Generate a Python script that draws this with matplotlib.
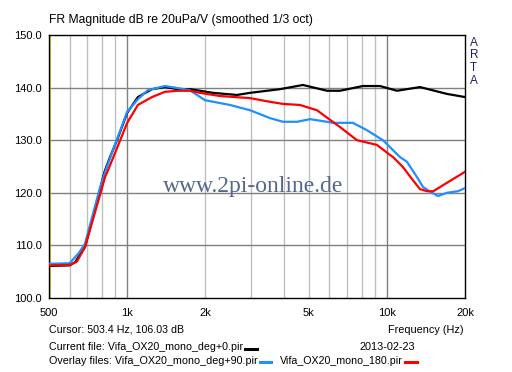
import matplotlib
matplotlib.use('Agg')
import matplotlib.pyplot as plt
from matplotlib.ticker import FixedLocator, NullFormatter

# curves (Hz, dB)
freq_0 = [500, 600, 630, 688, 786, 807, 822, 859, 914, 1000, 1100, 1246, 1398, 1570,
          1750, 2140, 2648, 2971, 3876, 4753, 5882, 6600, 8090, 9410, 10940, 13420, 17040, 20000]
db_0 = [106.1, 106.2, 106.8, 109.7, 120.5, 123.0, 124.3, 126.8, 130.0, 135.2, 138.2, 139.7, 140.1, 139.7,
        139.7, 139.0, 138.6, 139.0, 139.7, 140.5, 139.4, 139.4, 140.3, 140.3, 139.4, 140.1, 138.8, 138.2]

freq_90 = [500, 600, 650, 688, 786, 836, 880, 1000, 1100, 1200, 1398, 1570, 1745, 1994, 2488,
           2971, 3548, 3980, 4508, 5060, 5882, 6205, 7400, 8383, 9660, 11230, 11950, 13060,
           13780, 14920, 15740, 17040, 18790, 20000]
db_90 = [106.5, 106.6, 108.5, 110.3, 121.0, 125.0, 128.0, 135.4, 137.8, 139.5, 140.3, 139.9, 139.5, 137.6, 136.7,
         135.7, 134.2, 133.5, 133.5, 134.0, 133.5, 133.3, 133.3, 131.9, 130.0, 126.8, 125.9, 123.0,
         121.1, 120.0, 119.4, 120.0, 120.3, 120.9]

freq_180 = [500, 600, 640, 688, 786, 822, 836, 914, 1000, 1100, 1246, 1398, 1570, 1750, 1907,
            2276, 2971, 3548, 3980, 4628, 5380, 5882, 6600, 7673, 9162, 10280, 10560, 11530,
            12600, 13420, 14280, 15100, 17040, 19120, 20000]
db_180 = [106.2, 106.3, 106.9, 109.7, 119.6, 123.0, 123.8, 128.5, 133.3, 136.7, 138.2, 139.2, 139.4, 139.4, 139.0,
          138.4, 138.0, 137.3, 136.9, 136.7, 135.7, 134.3, 132.5, 130.0, 129.1, 127.2, 126.8, 124.9,
          122.4, 120.7, 120.3, 120.3, 121.9, 123.4, 124.0]

major_x = [1000, 10000]
minor_x = [600, 700, 800, 900, 2000, 3000, 4000, 5000, 6000, 7000, 8000, 9000]
x_ticks = [500, 1000, 2000, 5000, 10000, 20000]
x_labels = ['500', '1k', '2k', '5k', '10k', '20k']
y_ticks = [100, 110, 120, 130, 140, 150]

plt.rcParams['font.family'] = ['Liberation Sans', 'DejaVu Sans']

W, H = 512, 372
fig = plt.figure(figsize=(W / 100, H / 100), dpi=100)
ax = fig.add_axes([49 / W, 1 - 298 / H, 416 / W, 263 / H])
ax.set_xscale('log')
ax.set_xlim(500, 20000)
ax.set_ylim(100, 150)

for f in minor_x:
    ax.axvline(f, color='#c0c0c0', lw=1, zorder=1)
for f in major_x:
    ax.axvline(f, color='#808080', lw=1, zorder=1)
for v in y_ticks[1:-1]:
    ax.axhline(v, color='#808080', lw=1, zorder=1)
ax.axvline(503.4, color='#c8c800', lw=1.2, zorder=2)

ax.text(0.4916, 0.403, 'www.2pi-online.de', transform=ax.transAxes, ha='center', va='baseline',
        family='Liberation Serif', fontsize=17, color='#55678a', zorder=3)

ax.plot(freq_0, db_0, color='black', lw=1.6, zorder=4)
ax.plot(freq_90, db_90, color='#1e90ff', lw=1.6, zorder=5)
ax.plot(freq_180, db_180, color='#ff0000', lw=1.6, zorder=6)

ax.xaxis.set_major_locator(FixedLocator(x_ticks))
ax.set_xticklabels(x_labels)
ax.xaxis.set_minor_formatter(NullFormatter())
ax.xaxis.set_minor_locator(FixedLocator([]))
ax.set_yticks(y_ticks)
ax.set_yticklabels(['%.1f' % v for v in y_ticks])
ax.tick_params(length=0, labelsize=8, colors='black')
ax.tick_params(axis='x', pad=7)
ax.tick_params(axis='y', pad=5)
for s in ax.spines.values():
    s.set_color('black')
    s.set_linewidth(1)

renderer = fig.canvas.get_renderer()


def label(x0, x1, y, s, ha='left'):
    # put text at pixel row y and shrink/grow it to span x0..x1 like the screenshot
    t = fig.text((x0 if ha == 'left' else x1) / W, 1 - y / H, s, fontsize=8, va='center', ha=ha)
    w = t.get_window_extent(renderer).width
    t.set_fontsize(8 * (x1 - x0) / w)
    return t


label(49, 313, 20, 'FR Magnitude dB re 20uPa/V (smoothed 1/3 oct)')
for i, ch in enumerate('ARTA'):
    fig.text(470 / W, 1 - (43 + i * 12.5) / H, ch, fontsize=8.5, va='center', color='#202060')
label(49, 184, 330, 'Cursor: 503.4 Hz, 106.03 dB')
label(388, 464, 330, 'Frequency (Hz)', ha='right')
label(49, 243, 347, 'Current file: Vifa_OX20_mono_deg+0.pir')
label(360, 416, 347, '2013-02-23')
label(49, 257, 361, 'Overlay files: Vifa_OX20_mono_deg+90.pir')
label(280, 403, 361, 'Vifa_OX20_mono_180.pir')

# legend swatches after the file names
fig.add_artist(plt.Line2D([245 / W, 257 / W], [1 - 349 / H] * 2, color='black', lw=2.2))
fig.add_artist(plt.Line2D([260 / W, 271 / W], [1 - 362 / H] * 2, color='#1e90ff', lw=2.2))
fig.add_artist(plt.Line2D([405 / W, 417 / W], [1 - 362 / H] * 2, color='#ff0000', lw=2.2))

fig.savefig('out.png', dpi=100)
